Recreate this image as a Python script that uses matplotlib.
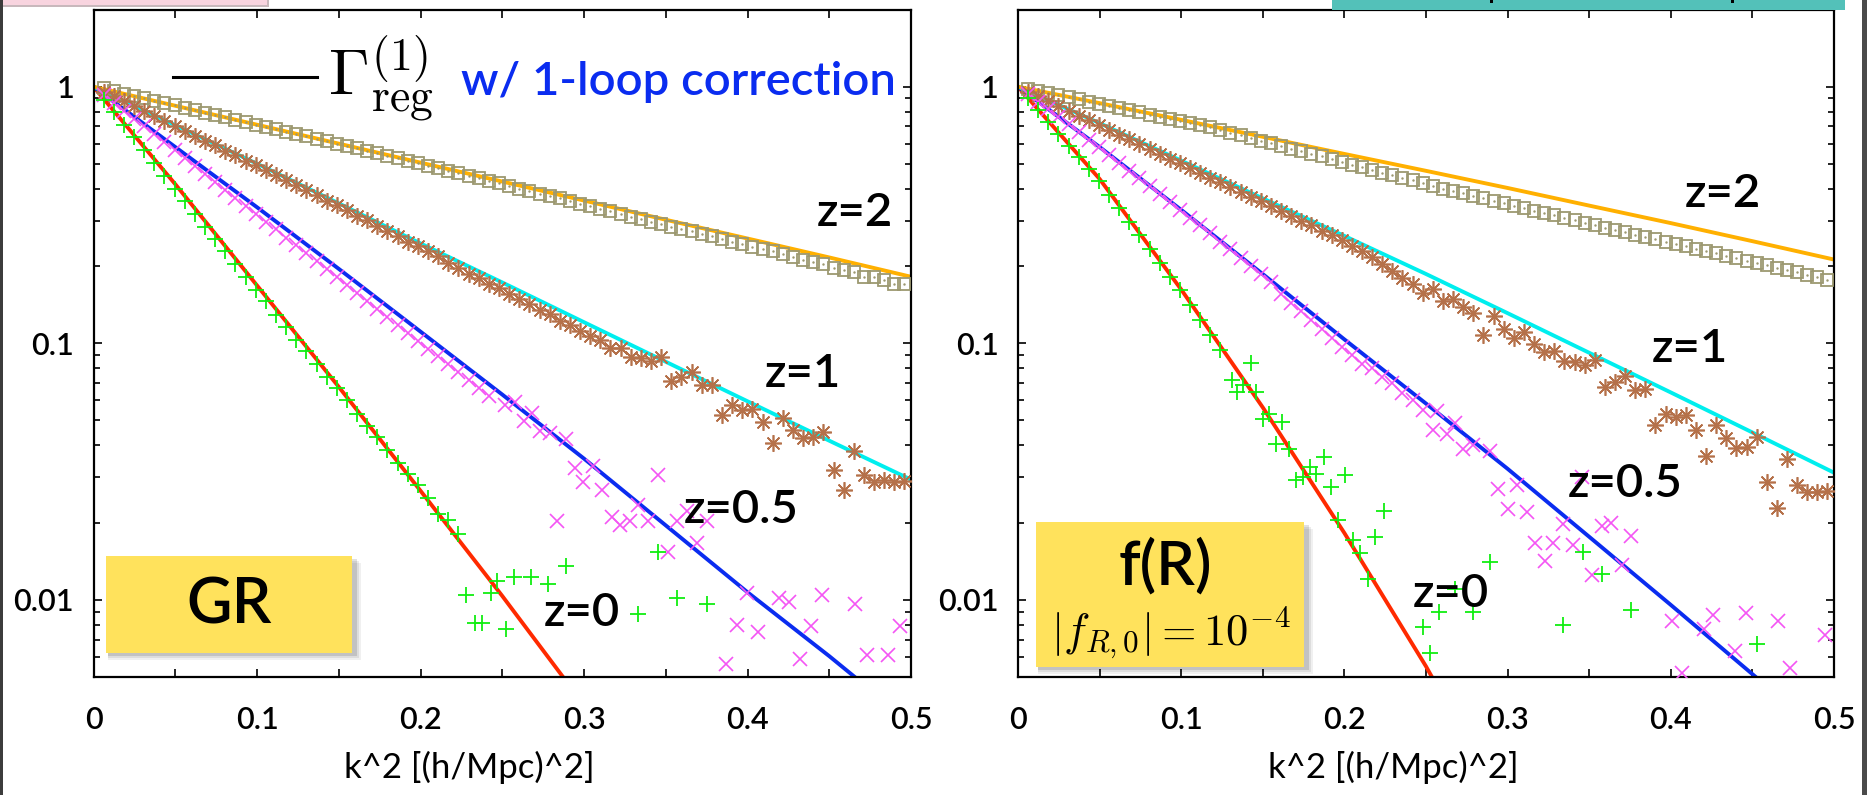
import numpy as np
import matplotlib
matplotlib.use('Agg')
from matplotlib import pyplot as plt
from matplotlib.patches import Rectangle
from matplotlib.lines import Line2D
from matplotlib.ticker import LogLocator, NullFormatter

W, H = 1867, 795

# ---------------- theory curves (Gamma_reg with 1-loop) ----------------
k2_line = [0.0, 0.05, 0.1, 0.15, 0.2, 0.25, 0.3, 0.35, 0.4, 0.45, 0.5]

gr_line_z0  = [1, .417, .168, .0676, .0266, .01035, .00389, .00145, .00052, .00019, .000068]
gr_line_z05 = [1, .582, .339, .195, .111, .0631, .0355, .0195, .0107, .00603, .00331]
gr_line_z1  = [1, .708, .501, .351, .245, .1726, .1208, .0847, .0594, .0417, .0294]
gr_line_z2  = [1, .843, .711, .600, .506, .427, .360, .303, .256, .216, .1816]

fr_line_z0  = [1, .437, .162, .0562, .0182, .0055, .00148, .00032, .00006, .00001, .000002]
fr_line_z05 = [1, .582, .331, .186, .1035, .0582, .0324, .0176, .00955, .00513, .00275]
fr_line_z1  = [1, .721, .515, .367, .262, .1862, .131, .0918, .0643, .0449, .0313]
fr_line_z2  = [1, .863, .743, .638, .547, .470, .403, .344, .294, .250, .212]

# ---------------- N-body measurements ----------------
k2_bin = 0.0062 * np.arange(1, 81)

gr_z2 = [.985, .962, .940, .921, .902, .883, .862, .845, .826, .810,
         .792, .776, .759, .744, .727, .712, .697, .682, .668, .654,
         .640, .626, .613, .600, .587, .575, .562, .550, .538, .526,
         .515, .503, .493, .482, .471, .460, .449, .440, .428, .420,
         .409, .401, .393, .382, .375, .367, .357, .350, .343, .333,
         .327, .320, .311, .305, .297, .292, .285, .278, .273, .266,
         .262, .255, .249, .244, .237, .232, .228, .222, .217, .212,
         .207, .203, .196, .193, .189, .182, .181, .176, .170, .170]

gr_z1 = [.958, .918, .878, .840, .803, .770, .736, .705, .672, .645,
         .615, .591, .563, .541, .515, .494, .472, .452, .432, .414,
         .395, .378, .360, .345, .330, .314, .302, .287, .275, .263,
         .249, .240, .229, .218, .205, .196, .187, .180, .170, .164,
         .155, .149, .142, .135, .130, .122, .118, .112, .107, .103,
         .0958, .0958, .0883, .0873, .085, .0883, .071, .0738, .0776, .0689,
         .0689, .0526, .0576, .055, .0554, .0495, .0408, .0511, .046, .0427,
         .043, .0449, .0321, .0267, .0379, .0307, .0289, .0294, .0289, .029]

gr_z05 = [.930, .865, .805, .750, .700, .652, .607, .566, .527, .490,
          .457, .425, .396, .369, .344, .320, .298, .278, .258, .241,
          .224, .209, .194, .181, .168, .157, .146, .136, .127, .118,
          .110, .102, .095, .089, .083, .077, .072, .067, .0625]
gr_z05_k2x = [.2517, .2578, .263, .268, .273, .279, .2833, .289, .2945, .2996,
              .3053, .311, .317, .322, .328, .333, .339, .3455, .3516, .3567,
              .3628, .369, .375, .387, .3934, .3995, .4066, .4195, .4256, .432,
              .4387, .4454, .4657, .473, .486, .493]
gr_z05_x = [.0576, .0588, .0496, .0534, .0453, .0447, .0202, .0423, .0326, .0289,
            .0333, .0268, .0211, .0196, .0202, .0235, .0202, .0307, .0154, .0202,
            .0221, .0166, .0202, .0056, .008, .0106, .0075, .0102, .0098, .0059,
            .0079, .0104, .0096, .0061, .0061, .0079]

gr_z0 = [.890, .800, .710, .635, .565, .505, .450, .400, .360, .320,
         .285, .255, .228, .203, .181, .162, .146, .129, .116, .103,
         .093, .083, .074, .067, .060, .053, .0475, .043, .0385, .034,
         .031, .028, .025, .0215, .0205, .018]
gr_z0_k2x = [.228, .2336, .2377, .243, .247, .2523, .2572, .2676, .2782, .289,
             .333, .345, .357, .375]
gr_z0_x = [.0104, .0081, .0081, .0106, .0118, .0077, .0123, .0123, .01154, .0135,
           .0088, .0153, .0102, .0096]

fr_z2 = [.982, .963, .943, .927, .908, .892, .873, .858, .840, .826,
         .809, .795, .778, .764, .751, .735, .723, .707, .694, .679,
         .663, .647, .631, .617, .602, .588, .574, .561, .547, .535,
         .522, .509, .497, .486, .474, .463, .452, .441, .431, .421,
         .410, .401, .393, .384, .376, .367, .359, .352, .344, .337,
         .329, .322, .315, .308, .302, .295, .289, .282, .277, .271,
         .265, .260, .254, .249, .244, .239, .233, .229, .224, .219,
         .215, .210, .206, .202, .197, .193, .189, .185, .181, .177]

fr_z1 = [.957, .916, .878, .842, .806, .772, .740, .709, .679, .651,
         .623, .597, .572, .548, .525, .503, .482, .462, .442, .424,
         .406, .389, .372, .357, .342, .327, .313, .300, .288, .275,
         .264, .253, .240, .228, .216, .203, .192, .180, .170,
         .157, .163, .146, .149, .139, .131, .108, .128, .114, .1044,
         .111, .099, .0923, .0929, .0853, .0844, .0824, .0859, .0675, .0706,
         .0745, .0659, .0665, .0478, .0532, .0514, .0526, .0457, .0363, .0478,
         .0426, .0391, .0394, .043, .0288, .0227, .0354, .0281, .0262, .0264, .0265]

fr_z05 = [.935, .873, .816, .763, .713, .666, .622, .581, .542, .505,
          .471, .440, .410, .382, .356, .332, .309, .288, .268, .249,
          .232, .215, .200, .186, .173, .155, .143, .133, .123, .114,
          .105, .097, .090, .083, .080, .074, .070, .064, .060, .055, .046]
fr_z05_k2x = [.2565, .2627, .2678, .2729, .279, .2892, .2943, .3005, .3056, .3117,
              .3168, .323, .328, .3341, .3403, .3454, .3515, .3576, .3633, .3699,
              .3756, .4009, .4067, .4203, .426, .4393, .4461, .4659, .473, .4945]
fr_z05_x = [.0542, .0442, .0488, .0386, .0401, .038, .0271, .0225, .0281, .0219,
            .0167, .0141, .0167, .0197, .0163, .0302, .0125, .0194, .020, .0137,
            .0177, .0083, .0052, .0077, .0087, .0063, .0089, .0083, .0054, .0073]

fr_z0 = [.900, .810, .728, .655, .590, .531, .478, .430, .380, .337,
         .298, .264, .233, .206, .182, .161, .141, .123, .108, .0944]
fr_z0_k2x = [.131, .134, .138, .143, .146, .150, .154, .158, .162, .166,
             .1705, .1746, .1787, .1828, .1875, .192, .196, .2006, .2053, .2094,
             .2145, .219, .2241, .2482, .2522, .2582, .2678, .279, .2892, .3337,
             .3459, .3576, .3756, .4526]
fr_z0_x = [.0719, .0647, .0690, .0836, .0643, .0508, .0532, .0405, .0491, .0386,
           .0294, .0302, .033, .0309, .0361, .0274, .0204, .0307, .0171, .0152,
           .012, .0175, .0221, .0078, .0062, .009, .011, .009, .014, .008,
           .0154, .0126, .0091, .0067]

# ---------------- style ----------------
plt.rcParams['font.family'] = ['Lato', 'DejaVu Sans']
plt.rcParams['font.weight'] = 'semibold'
plt.rcParams['mathtext.fontset'] = 'cm'

c_red, c_blue, c_cyan, c_orange = '#FF2A00', '#0A2CF0', '#00EEEE', '#FFB000'
c_green, c_mag, c_brown, c_box = '#11EE11', '#F455F4', '#B5714A', '#9C9870'


def fx(x):
    return x / W


def fy(y):
    return 1 - y / H


def draw_panel(ax, lines, pts):
    for y, c in zip(lines, (c_red, c_blue, c_cyan, c_orange)):
        ax.plot(k2_line, y, '-', c=c, lw=2.8, zorder=2)
    (k0, y0), (k05, y05), (k1, y1), (k2, y2) = pts
    ax.plot(k2, y2, 's', ms=9, mfc='none', mec=c_box, mew=1.3, zorder=3)
    ax.plot(k2, y2, '.', ms=1.5, c=c_box, zorder=3)
    ax.plot(k1, y1, ls='none', marker=(8, 2, 0), ms=12, mec=c_brown, mew=1.2, zorder=3)
    ax.plot(k05, y05, 'x', ms=10.5, mec=c_mag, mew=1.2, zorder=3)
    ax.plot(k0, y0, '+', ms=12, mec=c_green, mew=1.3, zorder=3)

    ax.set_yscale('log')
    ax.set_xlim(0, 0.5)
    ax.set_ylim(0.005, 2)
    ax.set_xticks(np.arange(0, 0.501, 0.05))
    ax.set_xticklabels(['0', '', '0.1', '', '0.2', '', '0.3', '', '0.4', '', '0.5'])
    ax.set_yticks([0.01, 0.1, 1])
    ax.set_yticklabels(['0.01', '0.1', '1'])
    ax.yaxis.set_minor_locator(LogLocator(base=10, subs=np.arange(2, 10)))
    ax.yaxis.set_minor_formatter(NullFormatter())
    ax.tick_params(which='both', direction='in', top=True, right=True,
                   width=1.2, labelsize=22)
    ax.tick_params(which='major', length=6)
    ax.tick_params(which='minor', length=4)
    ax.tick_params(axis='x', pad=21)
    ax.tick_params(axis='y', pad=14)
    for s in ax.spines.values():
        s.set_linewidth(1.6)
    ax.set_xlabel('k^2 [(h/Mpc)^2]', fontsize=25)
    ax.xaxis.set_label_coords(0.46, -0.11)


def cat(a, b):
    return np.concatenate([k2_bin[:len(a)], b])


fig = plt.figure(figsize=(W / 100, H / 100), dpi=100)
fig.patch.set_facecolor('white')

ax1 = fig.add_axes([fx(93.5), fy(677), (911 - 93.5) / W, (677 - 9.5) / H])
ax2 = fig.add_axes([fx(1018), fy(677), (1834 - 1018) / W, (677 - 9.5) / H])

draw_panel(ax1, (gr_line_z0, gr_line_z05, gr_line_z1, gr_line_z2),
           ((cat(gr_z0, gr_z0_k2x), gr_z0 + gr_z0_x),
            (cat(gr_z05, gr_z05_k2x), gr_z05 + gr_z05_x),
            (k2_bin, gr_z1), (k2_bin, gr_z2)))
draw_panel(ax2, (fr_line_z0, fr_line_z05, fr_line_z1, fr_line_z2),
           ((cat(fr_z0, fr_z0_k2x), fr_z0 + fr_z0_x),
            (cat(fr_z05, fr_z05_k2x), fr_z05 + fr_z05_x),
            (k2_bin, fr_z1), (k2_bin, fr_z2)))

# redshift labels
for x, y, s in ((855, 213, 'z=2'), (803, 374, 'z=1'), (741, 510, 'z=0.5'), (582, 613, 'z=0'),
                (1723, 194, 'z=2'), (1690, 349, 'z=1'), (1625, 484, 'z=0.5'), (1451, 594, 'z=0')):
    fig.text(fx(x), fy(y), s, fontsize=34, ha='center', va='center')

# legend line + text
fig.add_artist(Line2D([fx(173), fx(317)], [fy(77), fy(77)], c='black', lw=2.2))
fig.text(fx(328), fy(95), r'$\Gamma^{(1)}_{\rm reg}$', fontsize=47,
         ha='left', va='baseline')
fig.text(fx(461), fy(95), 'w/ 1-loop correction', fontsize=34, color='#0A2CF0',
         ha='left', va='baseline')


def note_box(x0, y0, x1, y1):
    for d, a in ((7, 0.06), (5, 0.08), (3, 0.12)):
        fig.add_artist(Rectangle((fx(x0 + 2), fy(y1 + d)), (x1 - x0 + d) / W, (y1 - y0) / H,
                                 transform=fig.transFigure, fc='black', ec='none', alpha=a))
    fig.add_artist(Rectangle((fx(x0), fy(y1)), (x1 - x0) / W, (y1 - y0) / H,
                             transform=fig.transFigure, fc='#FFE25C', ec='none'))


note_box(106, 556, 352, 653)
fig.text(fx(229), fy(605), 'GR', fontsize=45, ha='center', va='center')
note_box(1036, 522, 1304, 667)
fig.text(fx(1165), fy(566), 'f(R)', fontsize=44, ha='center', va='center')
fig.text(fx(1171), fy(645), r'$|f_{R,0}|=10^{-4}$', fontsize=32,
         ha='center', va='baseline')

# slide decorations at the edges
fig.add_artist(Rectangle((0, fy(7)), 269 / W, 7 / H, transform=fig.transFigure,
                         fc='#C8B8BC', ec='none'))
fig.add_artist(Rectangle((0, fy(5)), 267 / W, 5 / H, transform=fig.transFigure,
                         fc='#F8D4DF', ec='none'))
fig.add_artist(Rectangle((fx(1332), fy(10)), (1845 - 1332) / W, 10 / H,
                         transform=fig.transFigure, fc='#53C1B9', ec='none'))
for x in (1490, 1731):
    fig.add_artist(Rectangle((fx(x), fy(3)), 3 / W, 3 / H, transform=fig.transFigure,
                             fc='black', ec='none'))
fig.add_artist(Rectangle((0, 0), 3 / W, 1, transform=fig.transFigure,
                         fc='#3C3C3C', ec='none'))
fig.add_artist(Rectangle((fx(1862), 0), 5 / W, 1, transform=fig.transFigure,
                         fc='#4A4A4A', ec='none'))

fig.savefig('out.png', dpi=100)
